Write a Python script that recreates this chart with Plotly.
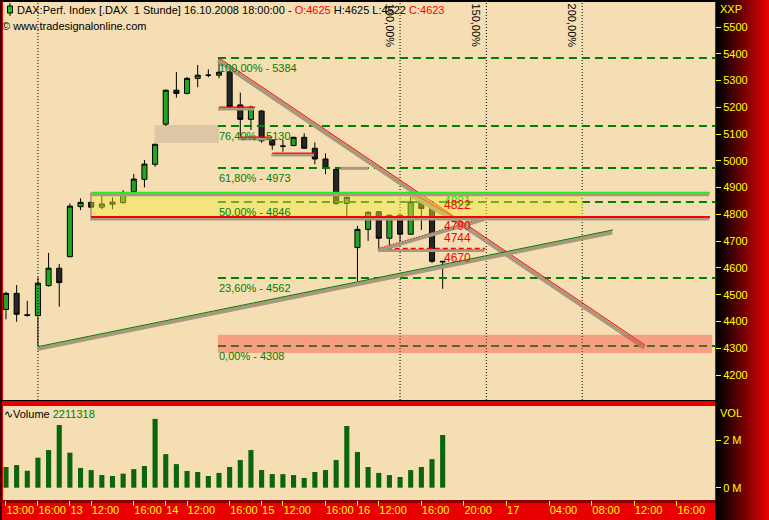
import plotly.graph_objects as go

# ---------------- data ----------------
bar_idx = list(range(42))
opens  = [4445, 4505, 4425, 4422, 4534, 4599, 4642, 4829, 4845, 4827, 4838, 4844, 4885, 4931,
          4987, 5137, 5264, 5252, 5308, 5320, 5320, 5333, 5209, 5155, 5186, 5078, 5055, 5057,
          5088, 5047, 5007, 4968, 4841, 4676, 4744, 4810, 4711, 4797, 4726, 4849, 4823, 4625]
highs  = [4511, 4536, 4477, 4565, 4656, 4615, 4841, 4860, 4847, 4879, 4864, 4891, 4951, 5003,
          5064, 5266, 5332, 5314, 5358, 5342, 5384, 5335, 5255, 5206, 5190, 5080, 5078, 5090,
          5103, 5069, 5028, 4970, 4866, 4757, 4812, 4812, 4799, 4799, 4881, 4872, 4825, 4625]
lows   = [4408, 4399, 4418, 4308, 4530, 4455, 4640, 4816, 4825, 4819, 4819, 4840, 4872, 4901,
          4978, 5130, 5236, 5248, 5275, 5312, 5308, 5200, 5090, 5115, 5068, 5041, 5034, 5055,
          5045, 4987, 4950, 4835, 4791, 4551, 4701, 4673, 4686, 4698, 4724, 4742, 4618, 4522]
closes = [4505, 4427, 4423, 4543, 4599, 4545, 4831, 4845, 4827, 4839, 4846, 4881, 4932, 4988,
          5062, 5264, 5252, 5308, 5320, 5320, 5331, 5202, 5155, 5200, 5075, 5059, 5055, 5088,
          5047, 5007, 4972, 4841, 4864, 4744, 4808, 4711, 4797, 4726, 4847, 4822, 4625, 4623]
volumes = [870000, 950000, 710000, 1260000, 1580000, 2630000, 1470000, 830000, 740000, 530000,
           490000, 590000, 780000, 910000, 2890000, 1410000, 990000, 700000, 660000, 490000,
           620000, 870000, 1160000, 1580000, 740000, 570000, 570000, 530000, 410000, 660000,
           740000, 1160000, 2590000, 1500000, 870000, 620000, 530000, 450000, 740000, 870000,
           1200000, 2211318]

tick_idx  = [0, 3, 6, 8, 12, 15, 17, 21, 24, 26, 30, 33, 35, 39, 43, 47, 51, 55, 59, 63]
tick_text = ["13:00", "16:00", "13", "12:00", "16:00", "14", "12:00", "16:00", "15", "12:00",
             "16:00", "16", "12:00", "16:00", "20:00", "17", "04:00", "08:00", "12:00", "16:00"]
price_ticks = [4200, 4300, 4400, 4500, 4600, 4700, 4800, 4900, 5000, 5100, 5200, 5300, 5400, 5500]
vol_ticks = [0, 2000000]
vol_tick_text = ["0 M", "2 M"]

fib_pct = ["100,00%", "76,40%", "61,80%", "50,00%", "23,60%", "0,00%"]
fib_levels = [5384, 5130, 4973, 4846, 4562, 4308]
fib_start = 20

time_fib_idx = [37, 45.1, 54.1]
time_fib_text = ["100,00%", "150,00%", "200,00%"]
start_marker_idx = 3

res_level, sup_level = 4881, 4790
band_x = [7.98, 54.2]
sr_line_x = [7.98, 66.1]

short_x0 = [20, 22, 25]
short_x1 = [23.4, 25, 29]
short_y = [5201, 5089, 5029]
gray_x = [31.4, 34]
gray_y = 4972

tri_x = [35, 45]
tri_flat = 4673
tri_rise = [4673, 4790]

label_vals = [4881, 4822, 4790, 4744, 4670]
label_cols = ["#22DD22", "#FF0000", "#FF0000", "#FF0000", "#FF0000"]
label_pos = [4885, 4868, 4792, 4746, 4672]
label_idx = 41

red_tl_x, red_tl_y = [20, 60], [5384, 4312]
red_tl2_x, red_tl2_y = [38.1, 42.9], [4881, 4770]
green_tl_x, green_tl_y = [3, 57], [4306, 4742]

beige_x, beige_y = [13.95, 20], [5067, 5134]
target_x, target_y = [19.9, 66.3], [4282, 4350]

# ---------------- geometry ----------------
W, H = 769, 520
ML, MR, MT, MB = 3, 54, 2, 20
PW, PH = W - ML - MR, H - MT - MB


def pxx(px):
    return (px - ML) / PW


def pxy(py):
    return (H - MB - py) / PH


main_dom = [pxy(400), 1.0]
vol_dom = [0.0, pxy(406)]
x_range = [-0.28, 66.57]
y_range = [4106.7, 5593.4]
v_range = [-517000, 3430000]
ppp = (y_range[1] - y_range[0]) / 398.0  # price units per pixel

TAN = "#F5DEB3"
GREEN = "#008000"
SHADOW = "#A8987E"
FONT = "Liberation Sans"

fig = go.Figure()
fig.add_trace(go.Candlestick(
    x=bar_idx, open=opens, high=highs, low=lows, close=closes,
    xaxis="x", yaxis="y", whiskerwidth=0,
    increasing=dict(fillcolor="#22A522", line=dict(color="#000000", width=1)),
    decreasing=dict(fillcolor="#262626", line=dict(color="#000000", width=1)),
    showlegend=False, hoverinfo="skip"))
fig.add_trace(go.Bar(
    x=bar_idx, y=volumes, xaxis="x2", yaxis="y2", width=0.48,
    marker=dict(color="#0B650B", line=dict(width=0)), showlegend=False, hoverinfo="skip"))

shapes = []


def seg(x0, y0, x1, y1, color, width=1, dash=None, shadow=False, sw=3, soff=2.0):
    if shadow:
        shapes.append(dict(type="line", xref="x", yref="y", x0=x0 - 0.08, x1=x1 - 0.08,
                           y0=y0 - soff * ppp, y1=y1 - soff * ppp, layer="above",
                           line=dict(color=SHADOW, width=sw)))
    ln = dict(color=color, width=width)
    if dash:
        ln["dash"] = dash
    shapes.append(dict(type="line", xref="x", yref="y", x0=x0, x1=x1, y0=y0, y1=y1,
                       layer="above", line=ln))


# background gradient on the right axis area
N = 27
for i in range(N):
    t = i / (N - 1)
    c = int(235 * t ** 1.1)
    shapes.append(dict(type="rect", xref="paper", yref="paper", layer="below",
                       x0=pxx(715 + i * 2), x1=pxx(715 + i * 2 + 2.2),
                       y0=pxy(520), y1=pxy(0), line=dict(width=0),
                       fillcolor="rgb(%d,0,0)" % c))
# top black edge, left dark edge, bottom-band dark top
shapes.append(dict(type="rect", xref="paper", yref="paper", layer="below", x0=pxx(0), x1=pxx(715),
                   y0=pxy(2), y1=pxy(0), line=dict(width=0), fillcolor="#000000"))
shapes.append(dict(type="rect", xref="paper", yref="paper", layer="below", x0=pxx(0), x1=pxx(2),
                   y0=pxy(520), y1=pxy(0), line=dict(width=0), fillcolor="#3A0000"))
shapes.append(dict(type="rect", xref="paper", yref="paper", layer="below", x0=pxx(0), x1=pxx(715),
                   y0=pxy(503), y1=pxy(500), line=dict(width=0), fillcolor="#8A0000"))
shapes.append(dict(type="rect", xref="paper", yref="paper", layer="below", x0=pxx(0), x1=pxx(715),
                   y0=pxy(401), y1=pxy(400), line=dict(width=0), fillcolor="#000000"))

# beige zone
shapes.append(dict(type="rect", xref="x", yref="y", layer="below", x0=beige_x[0], x1=beige_x[1],
                   y0=beige_y[0], y1=beige_y[1], line=dict(width=0), fillcolor="#DDC7A4"))

# vertical dotted lines
for xv in [start_marker_idx] + time_fib_idx:
    shapes.append(dict(type="line", xref="x", yref="y domain", x0=xv, x1=xv, y0=0, y1=1,
                       layer="above", line=dict(color="#000000", width=1, dash="1px,2px")))

# fib retracement dashed lines
for lv in fib_levels:
    seg(fib_start - 0.1, lv, x_range[1], lv, GREEN, width=2, dash="8px,5px")

# trend lines
seg(red_tl_x[0], red_tl_y[0], red_tl_x[1], red_tl_y[1], "#FF0000", 1, shadow=True, sw=4, soff=2.5)
seg(red_tl2_x[0], red_tl2_y[0], red_tl2_x[1], red_tl2_y[1], "#FF0000", 1, shadow=True, sw=4, soff=2.5)
seg(green_tl_x[0], green_tl_y[0], green_tl_x[1], green_tl_y[1], GREEN, 1, shadow=True, sw=4, soff=2.5)

# short horizontal lines
for a, b, lv in zip(short_x0, short_x1, short_y):
    seg(a, lv, b, lv, "#FF0000", 1.2, shadow=True)
seg(gray_x[0], gray_y, gray_x[1], gray_y, SHADOW, 3)

# triangle lines
seg(tri_x[0], tri_flat, tri_x[1], tri_flat, "#FF0000", 1.5, dash="5px,3px", shadow=True)
seg(tri_x[0], tri_rise[0], tri_x[1], tri_rise[1], "#FF0000", 1, dash="1px,2px", shadow=True, sw=4)

# yellow band & target zone (translucent, above marks)
shapes.append(dict(type="rect", xref="x", yref="y", layer="above", x0=band_x[0], x1=band_x[1],
                   y0=sup_level, y1=res_level, line=dict(width=0),
                   fillcolor="rgba(245,235,59,0.45)"))
shapes.append(dict(type="line", xref="x", yref="y", layer="above", x0=band_x[0], x1=band_x[0],
                   y0=sup_level, y1=res_level, line=dict(color="#7A7060", width=1)))
shapes.append(dict(type="rect", xref="x", yref="y", layer="above", x0=target_x[0], x1=target_x[1],
                   y0=target_y[0], y1=target_y[1], line=dict(width=0),
                   fillcolor="rgba(245,62,53,0.39)"))

# support / resistance lines
seg(sr_line_x[0], res_level, sr_line_x[1], res_level, "#22EE22", 2, shadow=True)
seg(sr_line_x[0], sup_level, sr_line_x[1], sup_level, "#FF0000", 2, shadow=True)

# header candle icon
shapes.append(dict(type="line", xref="paper", yref="paper", layer="above", x0=pxx(10), x1=pxx(10),
                   y0=pxy(16), y1=pxy(3), line=dict(color="#000000", width=1)))
shapes.append(dict(type="rect", xref="paper", yref="paper", layer="above", x0=pxx(7.5), x1=pxx(12.5),
                   y0=pxy(13), y1=pxy(6), line=dict(color="#000000", width=1), fillcolor="#22C022"))

ann = []
# header
hdr = ("DAX:Perf. Index [.DAX \u00a01 Stunde] 16.10.2008 18:00:00 - "
       "<span style='color:#FF0000'>O:%d</span> H:%d L:%d <span style='color:#FF0000'>C:%d</span>"
       % (opens[-1], highs[-1], lows[-1], closes[-1]))
ann.append(dict(xref="paper", yref="paper", x=pxx(15), y=pxy(10), xanchor="left", yanchor="middle",
                text=hdr, showarrow=False, font=dict(family=FONT, size=11, color="#000000")))
ann.append(dict(xref="paper", yref="paper", x=pxx(0), y=pxy(26), xanchor="left", yanchor="middle",
                text="\u00a9 www.tradesignalonline.com", showarrow=False,
                font=dict(family=FONT, size=11, color="#000000")))
ann.append(dict(xref="paper", yref="paper", x=pxx(718), y=pxy(9), xanchor="left", yanchor="middle",
                text="XXP", showarrow=False, font=dict(family=FONT, size=11, color="#FFFF00")))
ann.append(dict(xref="paper", yref="paper", x=pxx(718), y=pxy(413), xanchor="left", yanchor="middle",
                text="VOL", showarrow=False, font=dict(family=FONT, size=11, color="#FFFF00")))
ann.append(dict(xref="paper", yref="paper", x=pxx(2), y=pxy(414), xanchor="left", yanchor="middle",
                text="\u223fVolume <span style='color:#008000'>%d</span>" % volumes[-1], showarrow=False,
                font=dict(family=FONT, size=11, color="#000000")))

# fib retracement labels
for p, lv in zip(fib_pct, fib_levels):
    ann.append(dict(xref="x", yref="y", x=fib_start - 0.15, y=lv, xanchor="left", yanchor="top",
                    yshift=-2, text="%s - %d" % (p, lv), showarrow=False,
                    font=dict(family=FONT, size=11, color=GREEN)))
# time fib labels (rotated)
for xv, t in zip(time_fib_idx, time_fib_text):
    ann.append(dict(xref="x", yref="y", x=xv - 0.95, y=5505, xanchor="center", yanchor="middle",
                    text=t, textangle=90, showarrow=False,
                    font=dict(family=FONT, size=11, color="#000000")))
# price labels
for v, c, pp in zip(label_vals, label_cols, label_pos):
    ann.append(dict(xref="x", yref="y", x=label_idx - 0.1, y=pp, xanchor="left", yanchor="top",
                    text=str(v), showarrow=False, font=dict(family=FONT, size=12, color=c)))

fig.update_layout(
    width=W, height=H, margin=dict(l=ML, r=MR, t=MT, b=MB, pad=0, autoexpand=False),
    paper_bgcolor="#E80000", plot_bgcolor=TAN, showlegend=False, hovermode=False,
    boxgap=0.32,
    shapes=shapes, annotations=ann,
    xaxis=dict(domain=[0, 1], range=x_range, anchor="y", showticklabels=False, ticks="",
               showgrid=False, zeroline=False, rangeslider=dict(visible=False), fixedrange=True),
    yaxis=dict(domain=main_dom, range=y_range, side="right", anchor="x", tickvals=price_ticks,
               ticks="outside", ticklen=5, tickwidth=1, tickcolor="#FFFF00",
               tickfont=dict(family=FONT, size=11, color="#FFFF00"), automargin=False,
               showgrid=False, zeroline=False, showline=True, linecolor="#D00000", linewidth=1),
    xaxis2=dict(domain=[0, 1], range=x_range, anchor="y2", tickvals=tick_idx, ticktext=tick_text,
                ticks="outside", ticklen=5, tickwidth=1, tickcolor="#FFFF00", tickangle=0,
                ticklabelposition="outside right", automargin=False,
                tickfont=dict(family=FONT, size=11, color="#FFFF00"),
                showgrid=False, zeroline=False),
    yaxis2=dict(domain=vol_dom, range=v_range, side="right", anchor="x2", tickvals=vol_ticks,
                ticktext=vol_tick_text, ticks="outside", ticklen=5, tickwidth=1, tickcolor="#FFFF00",
                tickfont=dict(family=FONT, size=11, color="#FFFF00"), automargin=False,
                showgrid=False, zeroline=False, showline=True, linecolor="#D00000", linewidth=1),
)

fig.write_html("out.html", config={"displayModeBar": False},
               post_script="document.body.style.margin='0px';document.body.style.padding='0px';")
